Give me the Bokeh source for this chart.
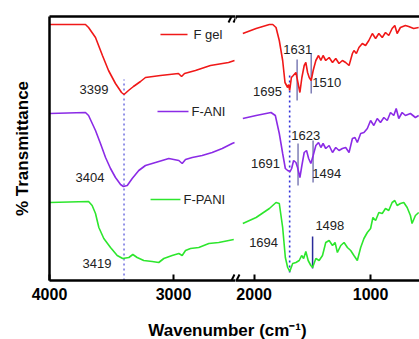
from bokeh.plotting import figure
from bokeh.models import Range1d, LinearAxis, FixedTicker, Label, Arrow
from bokeh.layouts import row, column
from bokeh.core.properties import value
from bokeh.embed import file_html
from bokeh.resources import INLINE

FONT = "Liberation Sans"
RED, PURPLE, GREEN = "#f01818", "#8b2be6", "#2de62d"

# ---------------- data (wavenumber cm-1, offset transmittance a.u.) ----------------
red_left_wn = [4000, 3710, 3685, 3629, 3573, 3524, 3468, 3419, 3399, 3363, 3323, 3266, 3226,
               3105, 2960, 2935, 2911, 2823, 2702, 2556, 2508]
red_left_t = [256, 256, 253, 243, 225, 210, 197, 188, 186, 190, 194, 199, 203,
              205, 207, 204, 207, 210, 215, 218, 220]

purple_left_wn = [4000, 3710, 3685, 3629, 3589, 3548, 3508, 3468, 3427, 3404, 3373, 3333, 3280,
                  3226, 3145, 3038, 2957, 2930, 2903, 2849, 2769, 2688, 2607, 2527, 2508]
purple_left_t = [167, 168, 165, 150, 137, 123, 112, 103, 96, 94, 95, 102, 110,
                 115, 118, 122, 120, 117, 121, 123, 125, 128, 132, 137, 138]

green_left_wn = [4000, 3685, 3656, 3629, 3602, 3562, 3508, 3454, 3410, 3360, 3328, 3293, 3240,
                 3172, 3119, 3078, 3011, 2957, 2930, 2903, 2863, 2796, 2715, 2635, 2554, 2514]
green_left_t = [78, 79, 75, 67, 53, 42, 33, 25, 22, 23, 26, 23, 20,
                19, 18, 22, 25, 27, 25, 30, 32, 33, 37, 38, 40, 41]

red_right_wn = [2097, 1983, 1869, 1840, 1812, 1784, 1755, 1735, 1712, 1703, 1695, 1680, 1664, 1641,
                1624, 1607, 1590, 1570, 1556, 1541, 1527, 1510, 1493, 1470, 1447, 1427, 1408, 1385,
                1356, 1327, 1299, 1271, 1242, 1214, 1185, 1156, 1143, 1122, 1100, 1071, 1043, 1015,
                985, 957, 929, 900, 872, 844, 815, 792, 772, 744, 701, 673, 630, 587]
red_right_t = [247, 252, 256, 256, 253, 240, 220, 198, 193, 196, 190, 203, 205, 208,
               198, 188, 203, 215, 218, 208, 203, 200, 210, 220, 225, 220, 225, 220,
               223, 218, 222, 217, 220, 218, 215, 227, 230, 227, 233, 237, 235, 240,
               247, 242, 247, 243, 248, 245, 252, 255, 247, 253, 255, 254, 252, 253]

purple_right_wn = [2097, 1983, 1855, 1818, 1784, 1755, 1732, 1712, 1691, 1678, 1661, 1641, 1627,
                   1607, 1590, 1570, 1550, 1532, 1513, 1493, 1470, 1447, 1427, 1408, 1385, 1356,
                   1327, 1299, 1271, 1242, 1214, 1185, 1156, 1134, 1114, 1085, 1057, 1028, 1000,
                   972, 943, 915, 886, 857, 829, 801, 780, 758, 729, 701, 658, 615, 587]
purple_right_t = [162, 165, 168, 165, 147, 127, 112, 110, 109, 112, 120, 118, 113,
                  103, 115, 128, 130, 122, 117, 125, 135, 138, 133, 137, 132, 135,
                  128, 133, 130, 132, 133, 128, 142, 143, 138, 147, 148, 152, 160,
                  155, 162, 158, 163, 160, 168, 165, 172, 162, 168, 165, 167, 163, 165]

green_right_wn = [2097, 1983, 1869, 1812, 1784, 1755, 1732, 1712, 1694, 1669, 1641, 1613, 1592,
                  1575, 1556, 1536, 1513, 1498, 1470, 1442, 1413, 1385, 1356, 1327, 1305, 1285,
                  1256, 1228, 1199, 1171, 1143, 1114, 1085, 1057, 1028, 1000, 980, 957, 929,
                  900, 872, 844, 815, 792, 772, 744, 715, 686, 658, 644, 615, 587]
green_right_t = [57, 63, 72, 78, 77, 53, 23, 13, 9, 17, 18, 20, 25,
                 22, 29, 20, 15, 13, 22, 20, 25, 38, 40, 35, 38, 28,
                 35, 38, 33, 30, 25, 20, 33, 42, 48, 52, 63, 60, 68,
                 67, 72, 70, 78, 80, 75, 77, 78, 73, 65, 57, 65, 68]

# peak annotations
left_peak_labels = ["3399", "3404", "3419"]
left_peak_x = [3758, 3790, 3734]
left_peak_y = [191, 103, 17]
left_dotted_wn = 3399
left_dotted_top = 201

right_peak_labels = ["1695", "1631", "1510", "1691", "1623", "1494", "1694", "1498"]
right_peak_x = [2009, 1750, 1500, 2026, 1681, 1500, 2043, 1474]
right_peak_y = [189, 231, 198, 117, 145, 107, 38, 55]
right_dotted_wn = 1695
right_dotted_range = (8, 208)

mark_wn = [1631, 1510, 1623, 1494]
mark_lo = [180, 187, 95, 98]
mark_hi = [221, 227, 137, 140]
mark_1498 = (1498, 12, 44)

# legend (drawn inside left panel)
legend_names = ["F gel", "F-ANI", "F-PANI"]
legend_colors = [RED, PURPLE, GREEN]
legend_x0 = [3105, 3129, 3185]
legend_x1 = [2887, 2879, 2944]
legend_tx = [2839, 2855, 2919]
legend_y = [246, 169, 81]

left_ticks = [4000, 3000]
right_ticks = [2000, 1000]
LEFT_RANGE = (4000, 2500)
RIGHT_RANGE = (2160, 580)
Y_RANGE = (0, 264)
FRAME_H = 264
LEFT_W, RIGHT_W = 186, 184


def style_bottom(ax, ticks):
    ax.ticker = FixedTicker(ticks=ticks)
    ax.axis_line_width = 2.5
    ax.axis_line_color = "black"
    ax.major_tick_line_width = 2
    ax.major_tick_line_color = "black"
    ax.major_tick_in = 6
    ax.major_tick_out = 0
    ax.minor_tick_out = 0
    ax.minor_tick_in = 0
    ax.minor_tick_line_color = None
    ax.major_label_text_font = FONT
    ax.major_label_text_font_style = "bold"
    ax.major_label_text_font_size = "16px"
    ax.major_label_text_color = "black"
    ax.major_label_standoff = 7


def add_top(p):
    top = LinearAxis(ticker=FixedTicker(ticks=[]), axis_line_width=2.5, axis_line_color="black",
                     major_tick_out=0, major_tick_in=0, minor_tick_out=0, minor_tick_in=0,
                     major_label_standoff=0)
    p.add_layout(top, "above")


def base_fig(fw, xr, left_border, yloc):
    p = figure(frame_width=fw, frame_height=FRAME_H, x_range=Range1d(*xr),
               y_range=Range1d(*Y_RANGE),
               output_backend="svg", toolbar_location=None,
               min_border_left=left_border, min_border_right=0, min_border_top=16,
               min_border_bottom=30, y_axis_location=yloc)
    p.xgrid.grid_line_color = None
    p.ygrid.grid_line_color = None
    p.outline_line_color = None
    return p


# ---------------- left panel ----------------
pL = base_fig(LEFT_W, LEFT_RANGE, 49, "left")
style_bottom(pL.xaxis[0], left_ticks)
ya = pL.yaxis[0]
ya.ticker = FixedTicker(ticks=[])
ya.axis_line_width = 2.5
ya.axis_line_color = "black"
ya.major_tick_out = 0
ya.minor_tick_out = 0
ya.major_label_standoff = 0
ya.axis_label = "% Transmittance"
ya.axis_label_text_font = FONT
ya.axis_label_text_font_style = "bold"
ya.axis_label_text_font_size = "17px"
ya.axis_label_text_color = "black"
ya.axis_label_standoff = 18
add_top(pL)

pL.segment(x0=[left_dotted_wn], y0=[0], x1=[left_dotted_wn], y1=[left_dotted_top],
           line_color="#7070e0", line_width=1.5, line_dash="2 3")
pL.line(red_left_wn, red_left_t, line_color=RED, line_width=1.6)
pL.line(purple_left_wn, purple_left_t, line_color=PURPLE, line_width=1.6)
pL.line(green_left_wn, green_left_t, line_color=GREEN, line_width=1.6)
pL.text(x=left_peak_x, y=left_peak_y, text=left_peak_labels, text_font=value(FONT),
        text_font_size="13px", text_color="#222222", text_baseline="middle", text_align="left")
pL.segment(x0=legend_x0, y0=legend_y, x1=legend_x1, y1=legend_y, line_color=legend_colors,
           line_width=1.6)
pL.text(x=legend_tx, y=legend_y, text=legend_names, text_font=value(FONT),
        text_font_size="13px", text_color="#222222", text_baseline="middle", text_align="left")

# ---------------- right panel ----------------
pR = base_fig(RIGHT_W, RIGHT_RANGE, 0, None)
style_bottom(pR.xaxis[0], right_ticks)
add_top(pR)

pR.segment(x0=[right_dotted_wn], y0=[right_dotted_range[0]], x1=[right_dotted_wn],
           y1=[right_dotted_range[1]], line_color="#3030d8", line_width=1.6, line_dash="2 3")
pR.segment(x0=mark_wn, y0=mark_lo, x1=mark_wn, y1=mark_hi, line_color="#6a6aaa", line_width=1.3)
pR.segment(x0=[mark_1498[0]], y0=[mark_1498[1]], x1=[mark_1498[0]], y1=[mark_1498[2]],
           line_color="#2a2a9a", line_width=1.5)
pR.line(red_right_wn, red_right_t, line_color=RED, line_width=1.6)
pR.line(purple_right_wn, purple_right_t, line_color=PURPLE, line_width=1.6)
pR.line(green_right_wn, green_right_t, line_color=GREEN, line_width=1.6)
pR.text(x=right_peak_x, y=right_peak_y, text=right_peak_labels, text_font=value(FONT),
        text_font_size="13px", text_color="#222222", text_baseline="middle", text_align="left")


# ---------------- axis break marks "//" ----------------
def px_to_wn(rng, frame_px, px):
    return rng[0] + (rng[1] - rng[0]) * px / frame_px


for p, rng, fw, base in ((pL, LEFT_RANGE, LEFT_W, LEFT_W), (pR, RIGHT_RANGE, RIGHT_W, 0)):
    for yb in (Y_RANGE[0], Y_RANGE[1]):
        for off in (-4, 1):
            xs = px_to_wn(rng, fw, base + off - 3)
            xe = px_to_wn(rng, fw, base + off + 3)
            p.add_layout(Arrow(end=None, x_start=xs, y_start=yb - 6, x_end=xe, y_end=yb + 6,
                               line_color="black", line_width=2))

# ---------------- x-axis title spanning both panels ----------------
pX = figure(width=419, height=29, x_range=Range1d(0, 419), y_range=Range1d(0, 29),
            output_backend="svg", toolbar_location=None, min_border=0,
            x_axis_location=None, y_axis_location=None)
pX.outline_line_color = None
pX.xgrid.visible = False
pX.ygrid.visible = False
pX.center = []
pX.add_layout(Label(x=227, y=9, text="Wavenumber (cm⁻¹)", text_align="center",
                    text_baseline="middle", text_font=FONT, text_font_style="bold",
                    text_font_size="17px", text_color="black"))

layout = column(row(pL, pR), pX)
open("out.html", "w").write(file_html(layout, INLINE))
